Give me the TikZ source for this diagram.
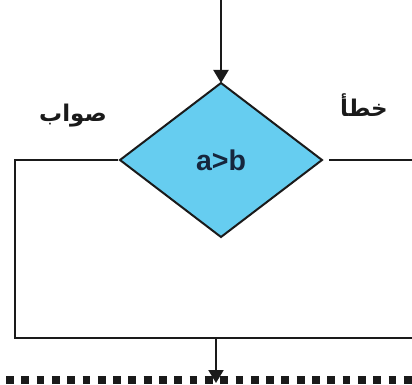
\documentclass[tikz,border=0pt]{standalone}
\usepackage{fontspec}
\setmainfont{Liberation Sans}
\newfontfamily\arabicfont[Script=Arabic]{DejaVu Sans}
\TeXXeTstate=1
\usepackage{xcolor}
\definecolor{ink}{HTML}{1A1A1A}
\definecolor{navy}{HTML}{16263D}
\definecolor{condBg}{HTML}{66CDF0}
\usetikzlibrary{arrows.meta,positioning,shapes.geometric}
\tikzset{>={Triangle[length=13pt,width=15pt]},
  cond/.style={diamond,draw=ink,line width=2pt,fill=condBg,inner sep=0pt,outer sep=0pt,
    minimum width=202pt,minimum height=154pt,font=\bfseries\fontsize{28.5}{31}\selectfont,text=navy},
  flow/.style={line width=2pt,ink},
  arlbl/.style={font=\arabicfont\bfseries\fontsize{23}{26}\selectfont,text=ink,inner sep=0pt},
  dots/.style={line width=8.5pt,ink,dash pattern=on 7.8pt off 7.5pt}}
\begin{document}
\begin{tikzpicture}[x=1pt,y=-1pt]
  \useasboundingbox (0,0) rectangle (412,385);
  \node[cond] (c) at (221,160) {a>b};
  \coordinate (in) at (221,0);
  \coordinate (fend) at (412,160);
  \coordinate (tcorner) at (15,160);
  \coordinate (tbottom) at (15,338);
  \coordinate (jend) at (412,338);
  \coordinate (join) at (216,338);
  \coordinate (out) at (216,383);
  \node[arlbl] (t) at (73,116) {\beginR صواب\endR};
  \node[arlbl] (f) at (364,105) {\beginR خطأ\endR};
  \draw[dots] (6,380) -- (412,380);
  \draw[flow,->] (in) -- (c.north);
  \draw[flow] ([xshift=7pt]c.east) -- (fend);
  \draw[flow] ([xshift=-2pt]c.west) -- (tcorner) -- (tbottom) -- (jend);
  \draw[flow,->] (join) -- (out);
\end{tikzpicture}
\end{document}
